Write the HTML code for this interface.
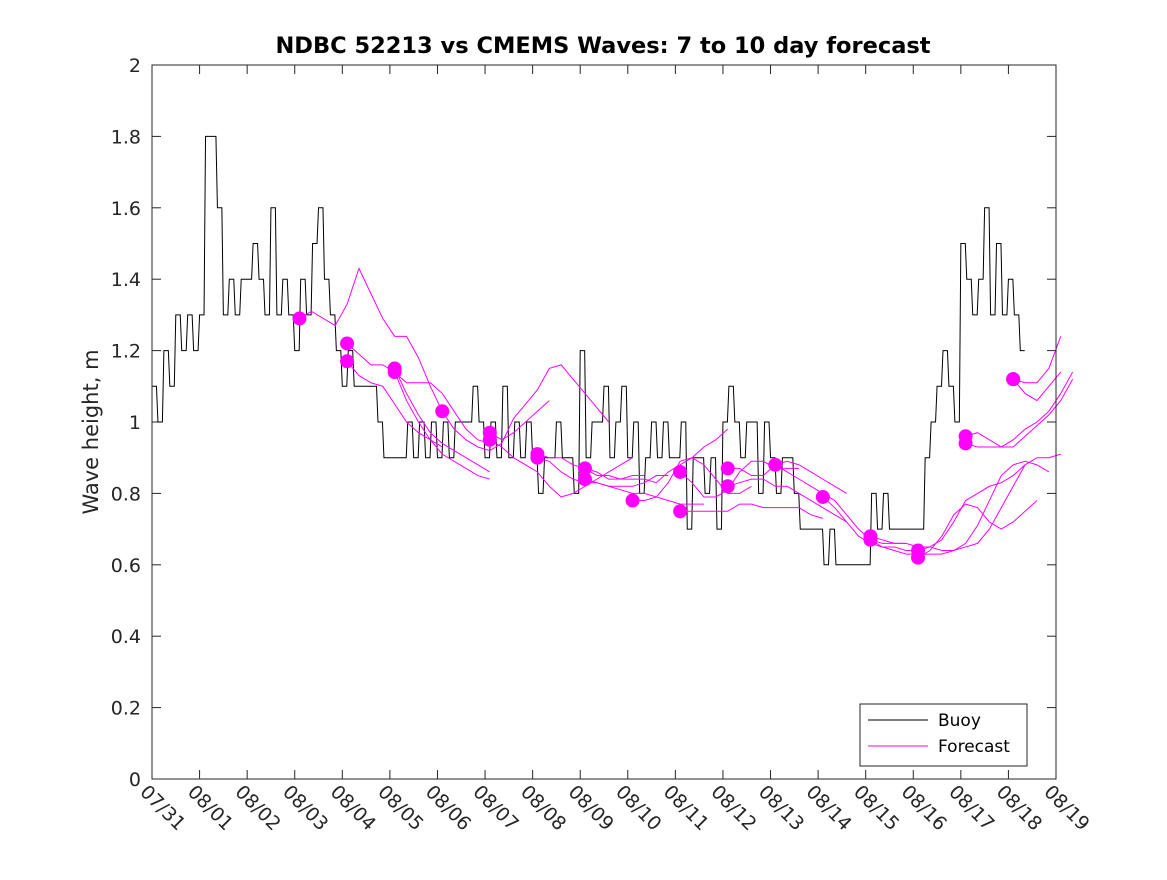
<!DOCTYPE html>
<html><head><meta charset="utf-8"><style>
body{margin:0;background:#fff}
svg{font-family:"DejaVu Sans","Liberation Sans",sans-serif}
</style></head><body>
<svg id="chart" width="1167" height="875" viewBox="0 0 1167 875" xmlns="http://www.w3.org/2000/svg">
<rect width="1167" height="875" fill="#fff"/>
<text x="603" y="53" text-anchor="middle" font-size="22.5" font-weight="bold" fill="#000">NDBC 52213 vs CMEMS Waves: 7 to 10 day forecast</text>
<text transform="translate(98,432) rotate(-90)" text-anchor="middle" font-size="21" fill="#262626">Wave height, m</text>
<g id="axes"></g>
<g id="buoy"></g>
<g id="fc"></g>
<rect x="152" y="65" width="904" height="714" fill="none" stroke="#262626" stroke-width="1"/>
<g>
<rect x="860" y="704" width="167" height="62" fill="#fff" stroke="#262626"/>
<line x1="868" y1="720" x2="928" y2="720" stroke="#000"/>
<text x="938" y="726" font-size="17" fill="#000">Buoy</text>
<line x1="868" y1="746" x2="928" y2="746" stroke="#f0f"/>
<text x="938" y="752" font-size="17" fill="#000">Forecast</text>
</g>
</svg>
<script>
const xLabels=["07/31","08/01","08/02","08/03","08/04","08/05","08/06","08/07","08/08","08/09","08/10","08/11","08/12","08/13","08/14","08/15","08/16","08/17","08/18","08/19"];
const yTicks=[0,0.2,0.4,0.6,0.8,1,1.2,1.4,1.6,1.8,2];
const buoyStep=0.125;
const buoyValues=[1.1,1.0,1.2,1.1,1.3,1.2,1.3,1.2,
1.3,1.8,1.8,1.6,1.3,1.4,1.3,1.4,
1.4,1.5,1.4,1.3,1.6,1.3,1.4,1.3,
1.2,1.4,1.3,1.5,1.6,1.4,1.3,1.2,
1.1,1.2,1.1,1.1,1.1,1.1,1.0,0.9,
0.9,0.9,0.9,1.0,0.9,1.0,0.9,1.0,
0.9,1.0,0.9,1.0,1.0,1.0,1.1,1.0,
0.9,1.0,0.9,1.1,0.9,1.0,0.9,1.0,
0.9,0.8,0.9,0.9,1.0,0.9,0.9,0.8,
1.2,0.9,1.0,1.0,1.1,0.9,1.0,1.1,
0.9,1.0,0.8,0.9,1.0,0.9,1.0,0.9,
0.9,1.0,0.7,0.9,0.9,0.8,0.9,0.7,
1.0,1.1,1.0,0.9,1.0,1.0,0.8,1.0,
0.9,0.8,0.9,0.9,0.8,0.7,0.7,0.7,
0.7,0.6,0.7,0.6,0.6,0.6,0.6,0.6,
0.6,0.8,0.7,0.8,0.7,0.7,0.7,0.7,
0.7,0.7,0.9,1.0,1.1,1.2,1.1,1.0,
1.5,1.4,1.3,1.4,1.6,1.3,1.5,1.3,
1.4,1.3,1.2];
const fcStep=0.25;
const fcStarts=[3.1,4.1,4.1,5.1,5.1,6.1,7.1,7.1,8.1,8.1,9.1,9.1,10.1,11.1,11.1,12.1,12.1,13.1,14.1,15.1,15.1,16.1,16.1,17.1,17.1,18.1,18.1];
const fcValues=[
[1.29,1.31,1.29,1.27,1.33,1.43,1.36,1.29,1.24,1.24,1.18,1.10,1.03],
[1.22,1.19,1.16,1.16,1.14,1.11,1.11,1.11,1.08,1.03,0.98,0.95,0.94],
[1.17,1.13,1.11,1.10,1.05,1.00,0.97,0.95,0.93],
[1.15,1.08,1.02,0.97,0.94,0.92,0.90,0.88,0.86],
[1.14,1.06,1.00,0.95,0.91,0.89,0.87,0.85,0.84],
[1.03,0.98,0.95,0.93,0.92,0.94,1.01,1.05,1.09,1.15,1.16,1.12,1.08,1.04,1.00],
[0.97,0.95,0.97,1.00,1.03,1.06],
[0.95,0.93,0.90,0.88,0.86,0.82,0.79,0.80,0.82,0.84,0.86,0.88,0.90],
[0.91,0.90,0.90,0.88,0.87,0.86,0.84,0.84,0.85,0.85],
[0.90,0.89,0.86,0.84,0.83,0.83,0.82,0.82,0.82,0.83,0.85,0.85],
[0.87,0.85,0.85,0.84,0.84,0.84,0.83,0.86,0.88,0.90,0.93,0.95,0.98],
[0.84,0.83,0.82,0.81,0.80,0.80,0.79,0.78,0.77,0.77,0.77],
[0.78,0.78,0.79,0.83,0.89,0.90,0.88,0.84,0.80,0.80,0.82],
[0.86,0.83,0.79,0.79,0.81,0.86,0.89,0.89,0.87,0.87,0.87],
[0.75,0.75,0.75,0.75,0.75,0.77,0.77,0.76,0.76,0.76,0.76,0.74,0.73],
[0.87,0.87,0.85,0.85,0.88,0.89,0.88,0.86,0.84,0.82,0.80],
[0.82,0.83,0.84,0.84,0.82,0.82,0.80,0.78,0.76,0.74,0.72],
[0.88,0.86,0.84,0.82,0.80,0.78,0.74,0.70,0.67,0.66,0.66,0.66],
[0.79,0.76,0.72,0.68,0.66,0.65,0.65,0.64,0.64],
[0.68,0.67,0.66,0.66,0.65,0.65,0.64,0.64,0.65,0.66,0.70,0.76,0.82,0.88],
[0.67,0.65,0.64,0.63,0.63,0.63,0.63,0.64,0.66,0.71,0.78,0.85,0.88,0.89,0.88,0.86],
[0.64,0.65,0.67,0.72,0.78,0.80,0.82,0.83,0.85,0.88,0.90,0.90,0.91],
[0.62,0.64,0.68,0.74,0.77,0.76,0.72,0.70,0.72,0.75,0.78],
[0.96,0.97,0.95,0.93,0.93,0.96,0.99,1.02,1.06,1.12],
[0.94,0.93,0.93,0.93,0.95,0.98,1.00,1.03,1.08,1.14],
[1.12,1.11,1.11,1.15,1.24],
[1.12,1.08,1.06,1.10,1.14]];

const NS="http://www.w3.org/2000/svg";
const X0=152,X1=1056,Y0=779,Y1=65;
const xs=d=>X0+(X1-X0)*d/19;
const ys=v=>Y0-(Y0-Y1)*v/2;
function mk(t,a,p){const e=document.createElementNS(NS,t);for(const k in a)e.setAttribute(k,a[k]);p.appendChild(e);return e;}
const axes=document.getElementById('axes');
yTicks.forEach(v=>{
  const y=ys(v);
  const l=mk('line',{x1:X0,y1:y,x2:X0+9,y2:y,stroke:'#262626'},axes);
  
  
  const l2=mk('line',{x1:X1-9,y1:y,x2:X1,y2:y,stroke:'#262626'},axes);
  
  
  const t=mk('text',{x:X0-11,y:y+7,'text-anchor':'end','font-size':19,fill:'#262626'},axes);
  t.textContent=String(v);
  
  
});
xLabels.forEach((s,i)=>{
  const x=xs(i);
  const l=mk('line',{x1:x,y1:Y0,x2:x,y2:Y0-9,stroke:'#262626'},axes);
  
  
  const l2=mk('line',{x1:x,y1:Y1,x2:x,y2:Y1+9,stroke:'#262626'},axes);
  
  
  const t=mk('text',{transform:`translate(${x-13},${Y0+14}) rotate(45)`,'font-size':19,fill:'#262626'},axes);
  t.textContent=s;
  
  
});
let pts=[];
buoyValues.forEach((v,i)=>{
  const xa=xs(i*buoyStep), xb=xs((i+1)*buoyStep);
  pts.push(xa+','+ys(v)); pts.push((xb-1.5)+','+ys(v));
});
const bl=mk('polyline',{points:pts.join(' '),fill:'none',stroke:'#000','stroke-width':1},document.getElementById('buoy'));


const fg=document.getElementById('fc');
fcValues.forEach((arr,k)=>{
  const p=arr.map((v,j)=>xs(fcStarts[k]+j*fcStep)+','+ys(v)).join(' ');
  const pl=mk('polyline',{points:p,fill:'none',stroke:'#f0f','stroke-width':1},fg);
  
  
});
fcValues.forEach((arr,k)=>{
  const c=mk('circle',{cx:xs(fcStarts[k]),cy:ys(arr[0]),r:7,fill:'#f0f'},fg);
  
  
});
</script>
</body></html>
